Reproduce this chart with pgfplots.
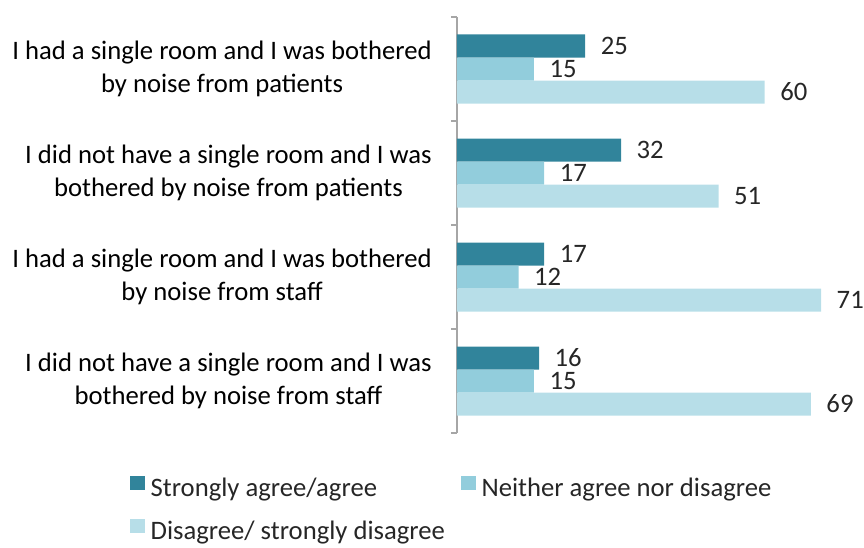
\documentclass[border=0pt]{standalone}
\usepackage{pgfplots}
\pgfplotsset{compat=1.18}
\usepackage{fontspec}
\setmainfont{Carlito}
\definecolor{c1}{HTML}{31849B}
\definecolor{c2}{HTML}{92CDDC}
\definecolor{c3}{HTML}{B7DEE8}
\begin{document}
\begin{tikzpicture}
\path[use as bounding box] (-342.75pt,-85.5pt) rectangle (305.25pt,324.75pt);
\begin{axis}[
 at={(0pt,0pt)}, anchor=south west,
 scale only axis, width=298.5pt, height=312pt,
 xmin=0, xmax=77.6, ymin=-0.5, ymax=3.5,
 xbar, bar width=17.25pt,
 axis x line=none,
 axis y line=left,
 y axis line style={-, draw=gray!70, line width=0.8pt},
 ytick={0,1,2,3},
 yticklabels={{I did not have a single room and I was\\bothered by noise from staff},
              {I had a single room and I was bothered\\by noise from staff},
              {I did not have a single room and I was\\bothered by noise from patients},
              {I had a single room and I was bothered\\by noise from patients}},
 major tick length=0pt,
 yticklabel style={align=center, font=\fontsize{20}{24.5}\selectfont, inner sep=0pt, xshift=-18.75pt},
 extra y ticks={-0.5,0.5,1.5,2.5,3.5},
 extra y tick labels={},
 extra y tick style={major tick length=4.5pt, tick align=outside, tick style={draw=gray!70, line width=0.8pt}},
 /pgf/number format/assume math mode=true,
 nodes near coords,
 nodes near coords style={font=\fontsize{20}{24}\selectfont, anchor=west, inner sep=0pt, xshift=11.5pt, text=black!85},
 legend columns=2,
 legend cell align=left,
 legend style={draw=none, fill=none, inner sep=0pt, outer sep=0pt,
   at={(axis description cs:-0.8216,-0.1029)}, anchor=north west,
   font=\fontsize{20}{24}\selectfont,
   nodes={inner sep=0pt, text height=14pt, text depth=4.5pt, text=black!85},
   row sep=12pt,
   /tikz/every odd column/.append style={column sep=4.5pt},
   /tikz/every even column/.append style={column sep=12pt}},
 legend image code/.code={\fill[#1] (0pt,0pt) rectangle (11pt,11pt);},
]
\addplot[fill=c1, draw=none, bar shift=17.25pt] coordinates {(16,0) (17,1) (32,2) (25,3)};
\addplot[fill=c2, draw=none, bar shift=0pt] coordinates {(15,0) (12,1) (17,2) (15,3)};
\addplot[fill=c3, draw=none, bar shift=-17.25pt] coordinates {(69,0) (71,1) (51,2) (60,3)};
\legend{Strongly agree/agree, Neither agree nor disagree, Disagree/ strongly disagree}
\end{axis}
\end{tikzpicture}
\end{document}
